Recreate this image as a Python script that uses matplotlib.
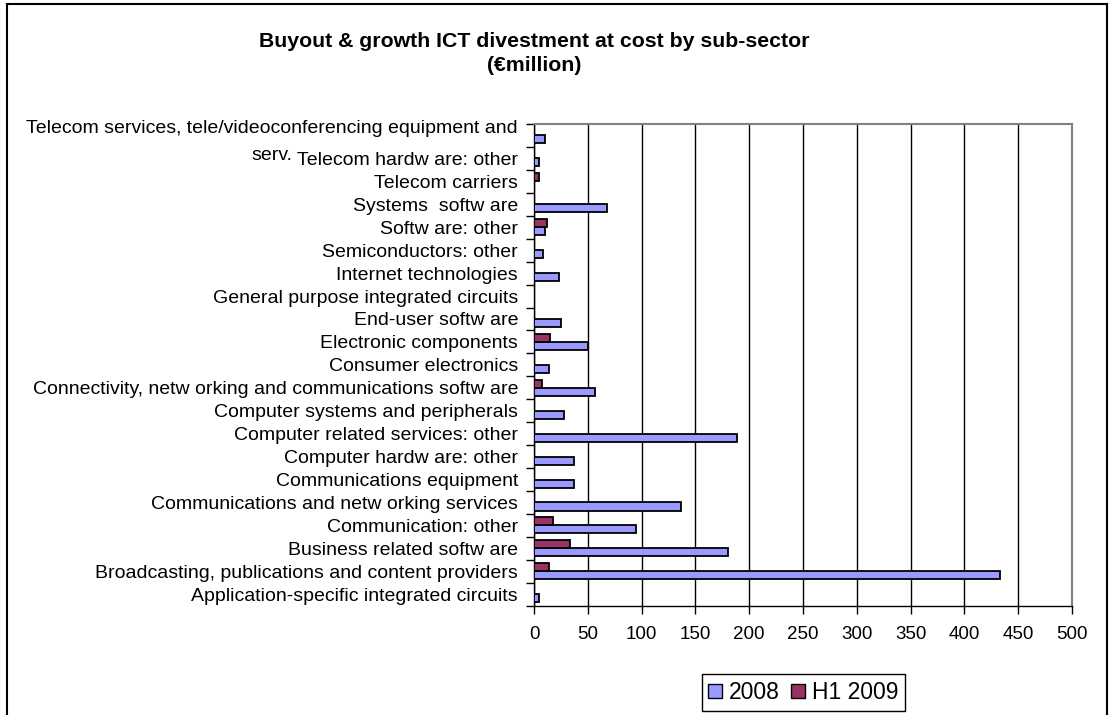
import numpy as np
import matplotlib
matplotlib.use("Agg")
import matplotlib.pyplot as plt
from matplotlib.patches import Patch
from matplotlib.lines import Line2D

plt.rcParams['font.family'] = ['Liberation Sans', 'DejaVu Sans']

# categories, bottom to top as in the chart
categories = [
    "Application-specific integrated circuits",
    "Broadcasting, publications and content providers",
    "Business related softw are",
    "Communication: other",
    "Communications and netw orking services",
    "Communications equipment",
    "Computer hardw are: other",
    "Computer related services: other",
    "Computer systems and peripherals",
    "Connectivity, netw orking and communications softw are",
    "Consumer electronics",
    "Electronic components",
    "End-user softw are",
    "General purpose integrated circuits",
    "Internet technologies",
    "Semiconductors: other",
    "Softw are: other",
    "Systems  softw are",
    "Telecom carriers",
    "Telecom hardw are: other",
    "Telecom services, tele/videoconferencing equipment and\nserv.",
]

vals_2008 = [5, 433, 180, 95, 137, 37, 37, 189, 28, 57, 14, 50, 25, 0, 23, 8, 10, 68, 0, 5, 10]
vals_h1_2009 = [0, 14, 33, 18, 0, 0, 0, 0, 0, 7, 0, 15, 0, 0, 0, 0, 12, 0, 5, 0, 0]

series_names = ["2008", "H1 2009"]
xticks = [0, 50, 100, 150, 200, 250, 300, 350, 400, 450, 500]

W, H = 1109, 715
fig = plt.figure(figsize=(W / 100, H / 100), dpi=100)
ax = fig.add_axes([534 / W, 1 - 605.7 / H, (1072 - 534) / W, (605.7 - 124) / H])

y = np.arange(len(categories))
bh = 0.35
ax.barh(y - bh / 2, vals_2008, height=bh, color="#9999FF", edgecolor="black", linewidth=1.3, zorder=3)
ax.barh(y + bh / 2, vals_h1_2009, height=bh, color="#993366", edgecolor="black", linewidth=1.3, zorder=3)

ax.set_xlim(0, 500)
ax.set_ylim(-0.5, len(categories) - 0.5)
ax.set_xticks(xticks)
ax.set_xticklabels([str(v) for v in xticks], fontsize=13.5)
ax.set_yticks(y)
ax.set_yticklabels(categories, fontsize=14)
ax.set_yticks(np.arange(-0.5, len(categories), 1), minor=True)
ax.tick_params(axis="y", which="major", length=0, pad=11.5)
ax.tick_params(axis="y", which="minor", length=6, width=1, direction="out")
ax.tick_params(axis="x", length=6, width=1, direction="out", pad=8.5)

top_lbl = ax.get_yticklabels()[-1]
top_lbl.set_multialignment("center")
top_lbl.set_linespacing(1.75)

ax.grid(axis="x", color="black", linewidth=1, zorder=0)
for side in ["top", "right"]:
    ax.spines[side].set_color("#808080")
    ax.spines[side].set_linewidth(1.5)
for side in ["left", "bottom"]:
    ax.spines[side].set_color("black")
    ax.spines[side].set_linewidth(1)

fig.suptitle("Buyout & growth ICT divestment at cost by sub-sector\n(\u20acmillion)",
             x=534 / W, y=1 - 32 / H, fontsize=15.3, fontweight="bold", linespacing=1.35)

# outer chart border (bottom edge is cut off)
fig.add_artist(Line2D([7 / W, 7 / W], [0, 1 - 4 / H], color="black", linewidth=1.5))
fig.add_artist(Line2D([7 / W, 1107 / W], [1 - 4 / H, 1 - 4 / H], color="black", linewidth=1.5))
fig.add_artist(Line2D([1107 / W, 1107 / W], [0, 1 - 4 / H], color="black", linewidth=1.5))

handles = [Patch(facecolor="#9999FF", edgecolor="black", linewidth=1),
           Patch(facecolor="#993366", edgecolor="black", linewidth=1)]
leg = fig.legend(handles, series_names, loc="center",
                 bbox_to_anchor=(702 / W, 1 - 713 / H, (905 - 702) / W, (713 - 672) / H),
                 ncol=2, fontsize=16.5, frameon=True, fancybox=False, framealpha=1,
                 handlelength=0.6, handleheight=0.6, handletextpad=0.3, columnspacing=0.5,
                 borderpad=0.3, borderaxespad=0)
leg.get_frame().set_edgecolor("black")
leg.get_frame().set_linewidth(1)

fig.savefig("out.png", dpi=100)
